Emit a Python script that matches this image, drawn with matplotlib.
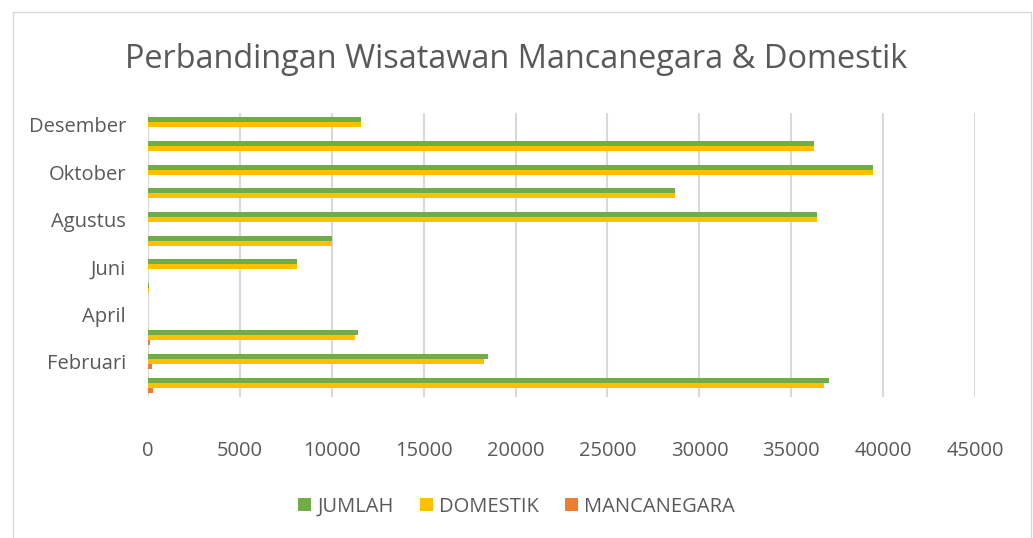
import numpy as np
import matplotlib
matplotlib.use("Agg")
import matplotlib.pyplot as plt
from matplotlib.patches import Rectangle

# =====================================================
# DATA
# =====================================================

bulan = ["Januari", "Februari", "Maret", "April", "Mei", "Juni",
         "Juli", "Agustus", "September", "Oktober", "November", "Desember"]
mancanegara = [250, 240, 130, 0, 0, 0, 0, 0, 0, 0, 0, 0]
domestik = [36800, 18260, 11280, 0, 40, 8090, 10000, 36400, 28690, 39460, 36230, 11610]
jumlah = [37050, 18500, 11410, 0, 40, 8090, 10000, 36400, 28690, 39460, 36230, 11610]

# =====================================================
# PLOT
# =====================================================

plt.rcParams['font.family'] = ['Open Sans', 'DejaVu Sans']
grey = "#595959"

fig = plt.figure(figsize=(10.33, 5.38), dpi=100)
ax = fig.add_axes([0.1433, 0.262, 0.8006, 0.528])

y = np.arange(len(bulan))
h = 0.21

ax.barh(y - h, mancanegara, height=h, color="#ED7D31", label="MANCANEGARA", zorder=3)
ax.barh(y, domestik, height=h, color="#FFC000", label="DOMESTIK", zorder=3)
ax.barh(y + h, jumlah, height=h, color="#70AD47", label="JUMLAH", zorder=3)

ax.set_xlim(0, 45000)
ax.set_ylim(-0.5, len(bulan) - 0.5)
ax.set_xticks(np.arange(0, 45001, 5000))
ax.set_yticks(y[1::2])
ax.set_yticklabels(bulan[1::2])
ax.tick_params(axis="both", length=0, labelsize=14.5, colors=grey)
ax.tick_params(axis="x", pad=32)
ax.tick_params(axis="y", pad=16)
ax.grid(axis="x", color="#d9d9d9", linewidth=1.5, zorder=0)
for s in ax.spines.values():
    s.set_visible(False)

fig.text(0.5, 0.89, "Perbandingan Wisatawan Mancanegara & Domestik",
         ha="center", va="center", fontsize=23.4, color=grey)

handles, labels = ax.get_legend_handles_labels()
leg = fig.legend(handles[::-1], labels[::-1], loc="center", bbox_to_anchor=(0.5, 0.058),
                 ncol=3, frameon=False, fontsize=14.5, handlelength=0.65, handleheight=0.65,
                 columnspacing=1.3, handletextpad=0.3)
for t in leg.get_texts():
    t.set_color(grey)

fig.patches.append(Rectangle((0.013, -0.01), 0.985, 0.988, transform=fig.transFigure,
                             fill=False, edgecolor="#d9d9d9", linewidth=1))

plt.savefig("out.png", dpi=100)
plt.close()
